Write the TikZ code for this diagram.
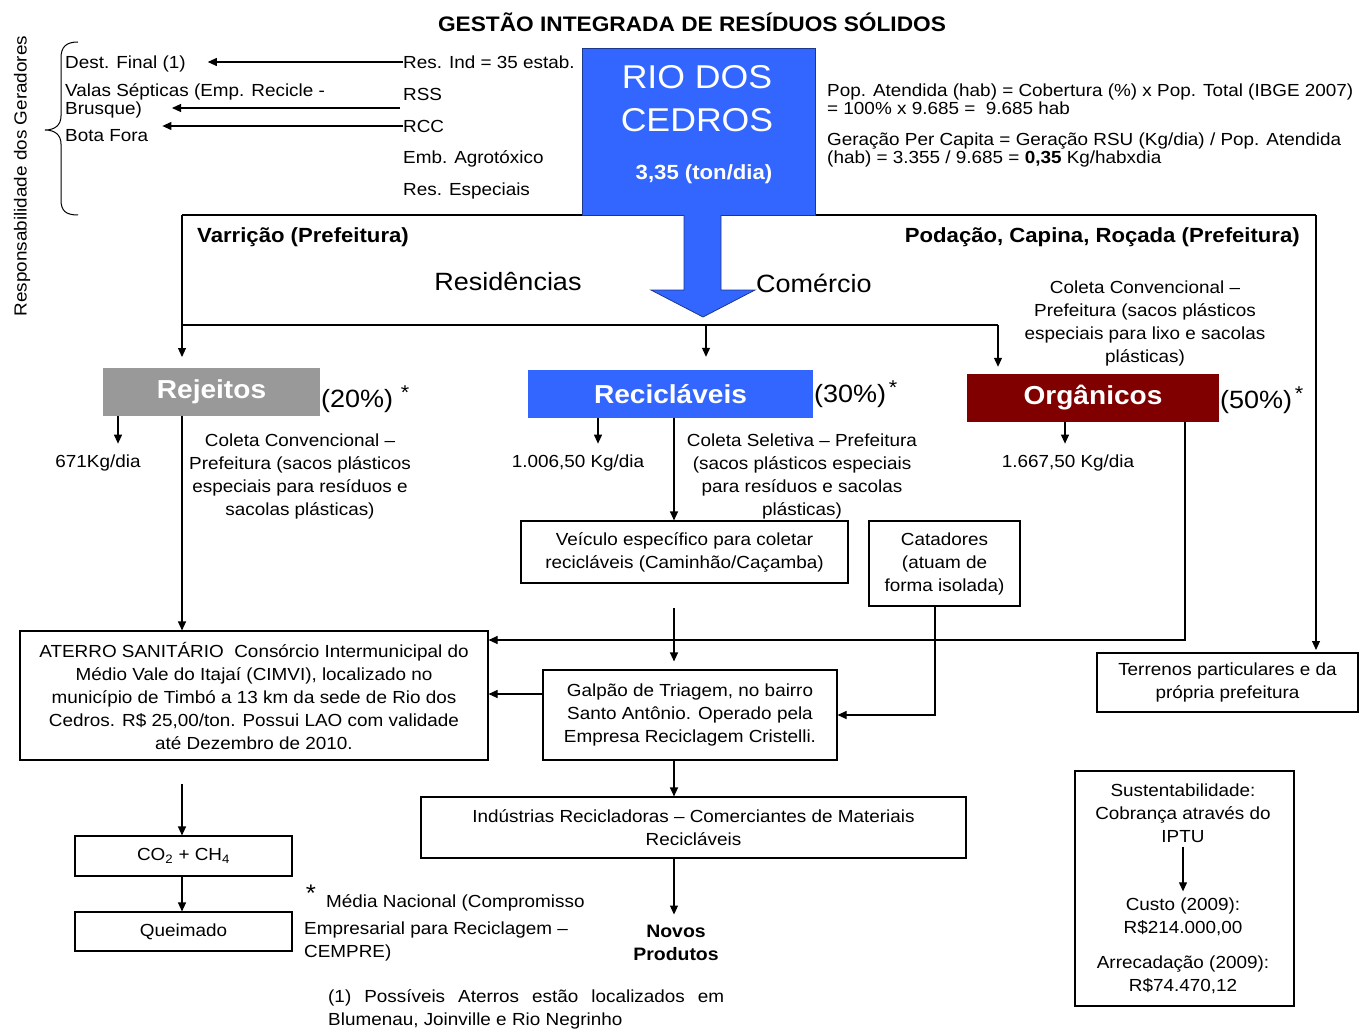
\documentclass[tikz,border=0pt]{standalone}
\usepackage{fontspec}
\setmainfont{Liberation Sans}[FakeStretch=1.08]
\usetikzlibrary{arrows.meta,decorations.pathreplacing,calc}
\definecolor{rioblue}{RGB}{51,102,255}
\definecolor{orgred}{RGB}{128,0,0}
\definecolor{rejgray}{RGB}{153,153,153}
\newcommand\myfN{\fontsize{17.5}{23}\selectfont}
\newcommand\myfT{\fontsize{17.5}{18}\selectfont}
\newcommand\myfV{\fontsize{17.5}{15}\selectfont}
\newcommand\myfTitle{\fontsize{21}{24}\selectfont\bfseries}
\newcommand\myfB{\fontsize{20.5}{24}\selectfont\bfseries}
\newcommand\myfL{\fontsize{25}{28}\selectfont}
\newcommand\myfBig{\fontsize{26}{30}\selectfont\bfseries}
\newcommand\myfRio{\fontsize{33}{43}\selectfont}
\newcommand\myfStar{\fontsize{20}{20}\selectfont}
\newcommand\myfNB{\fontsize{18}{23}\selectfont\bfseries}
\begin{document}
\begin{tikzpicture}[x=1pt,y=-1pt,
  t/.style={inner sep=0pt, font=\myfN, align=center},
  tl/.style={t, anchor=west, align=left},
  bx/.style={draw, line width=1.1pt, inner sep=0pt, align=center, font=\myfN},
  ln/.style={line width=1.1pt},
  ar/.style={ln, -{Triangle[length=9pt,width=8pt]}}]
\useasboundingbox (0,0) rectangle (1363,1030);

% helper coordinates
\coordinate (fl) at (182,215);
\coordinate (fr) at (1316,215);
\coordinate (ml) at (182,325);
\coordinate (mr) at (998,325);
\coordinate (mc) at (706,325);
\coordinate (x118) at (118,0);
\coordinate (x598) at (598,0);
\coordinate (x1065) at (1065,0);
\coordinate (x674) at (674,0);
\coordinate (x1185) at (1185,0);
\coordinate (x935) at (935,0);
\coordinate (y640) at (0,640);
\coordinate (y694) at (0,694);
\coordinate (c608) at (674,608);
\coordinate (c784) at (182,784);
\coordinate (a2s) at (400,108);
\coordinate (a2e) at (172,108);

% title and side text
\node[t, font=\myfTitle] (title) at (692,22) {GESTÃO INTEGRADA DE RESÍDUOS SÓLIDOS};
\node[t, rotate=90] (resp) at (22,176) {Responsabilidade dos Geradores};
\draw[line width=1pt] (78,42) .. controls (66,42) and (61,47) .. (61,58) -- (61,116)
  .. controls (61,125) and (55,130) .. (45,130) .. controls (55,130) and (61,135) .. (61,144)
  -- (61,200) .. controls (61,211) and (66,215) .. (78,215);

% left lists
\node[tl] (dest) at (65,64) {Dest. Final (1)};
\node[tl, font=\myfV] (valas) at (65,101) {Valas Sépticas (Emp. Recicle -\\Brusque)};
\node[tl] (bota) at (65,136) {Bota Fora};
\node[tl] (resind) at (403,62) {Res. Ind = 35 estab.};
\node[tl] (rss) at (403,94) {RSS};
\node[tl] (rcc) at (403,126) {RCC};
\node[tl] (emb) at (403,159) {Emb. Agrotóxico};
\node[tl] (resesp) at (403,191) {Res. Especiais};
\draw[ar, shorten >=22pt] (resind.west) -- (resind.west -| dest.east);
\draw[ar] (a2s) -- (a2e);
\draw[ar, shorten >=14pt] (rcc.west) -- (rcc.west -| bota.east);

% frame lines
\draw[ln] (fl) -- (fr);
\draw[ar, shorten >=11pt] (fl) -- (ml) -- ($(ml)+(0,43)$);
\draw[ln] (ml) -- (mr);
\draw[ar, shorten >=3pt] (fr) -- (1316,653);

% RIO box
\node[fill=rioblue, draw=rioblue!55!black, line width=0.8pt, minimum width=233pt, minimum height=167pt, inner sep=0] (rio) at (698.5,131.5) {};
\node[t, text=white, font=\myfRio] (riot) at (697,98.5) {RIO DOS\\CEDROS};
\node[t, text=white, font=\myfB] (ton) at (704,174) {3,35 (ton/dia)};
\node[tl, font=\myfT] (pop) at (827,99) {Pop. Atendida (hab) = Cobertura (\%) x Pop. Total (IBGE 2007)\\= 100\% x 9.685 =\ \ 9.685 hab};
\node[tl, font=\myfT] (ger) at (827,150) {Geração Per Capita = Geração RSU (Kg/dia) / Pop. Atendida\\(hab) = 3.355 / 9.685 = \textbf{0,35} Kg/habxdia};

% big arrow
\draw[fill=rioblue, draw=rioblue!55!black, line width=0.8pt] (684,215) -- (684,290) -- (651,290) -- (703,317) -- (755,290) -- (721,290) -- (721,215);

\node[t, font=\myfB, anchor=west] (varr) at (197,237) {Varrição (Prefeitura)};
\node[t, font=\myfB, anchor=east] (poda) at (1300,237) {Podação, Capina, Roçada (Prefeitura)};
\node[t, font=\myfL] (resid) at (508,282) {Residências};
\node[t, font=\myfL, anchor=west] (com) at (756,283) {Comércio};
\node[t] (colorg) at (1145,323.5) {Coleta Convencional –\\Prefeitura (sacos plásticos\\especiais para lixo e sacolas\\plásticas)};

% category boxes
\node[fill=rejgray, minimum width=217pt, minimum height=48pt, inner sep=0, text=white, font=\myfBig] (rej) at (211.5,392) {Rejeitos};
\node[t, font=\myfL, anchor=west] (p20) at (321,401) {(20\%)};
\node[t, font=\myfStar] (s20) at (405,393) {*};
\node[fill=rioblue, minimum width=285pt, minimum height=48pt, inner sep=0, text=white, font=\myfBig] (rec) at (670.5,394) {Recicláveis};
\node[t, font=\myfL, anchor=west] (p30) at (814,396) {(30\%)};
\node[t, font=\myfStar] (s30) at (893,388) {*};
\node[fill=orgred, minimum width=252pt, minimum height=48pt, inner sep=0, text=white, font=\myfBig] (org) at (1093,398) {Orgânicos};
\node[t, font=\myfL, anchor=west] (p50) at (1220,402) {(50\%)};
\node[t, font=\myfStar] (s50) at (1299,394) {*};

\draw[ar, shorten >=7pt] (mr) -- (org.north -| mr);
\draw[ar, shorten >=13pt] (mc) -- (rec.north -| mc);

% quantities
\node[t] (kg1) at (98,463) {671Kg/dia};
\node[t] (kg2) at (578,463) {1.006,50 Kg/dia};
\node[t] (kg3) at (1068,463) {1.667,50 Kg/dia};
\draw[ar, shorten >=11pt] (rej.south -| x118) -- (kg1.north -| x118);
\draw[ar, shorten >=11pt] (rec.south -| x598) -- (kg2.north -| x598);
\draw[ar, shorten >=11pt] (org.south -| x1065) -- (kg3.north -| x1065);

\node[t] (colrej) at (300,476) {Coleta Convencional –\\Prefeitura (sacos plásticos\\especiais para resíduos e\\sacolas plásticas)};
\node[t] (colrec) at (802,476) {Coleta Seletiva – Prefeitura\\(sacos plásticos especiais\\para resíduos e sacolas\\plásticas)};

% process boxes
\node[bx, minimum width=327pt, minimum height=62pt] (veic) at (684.5,552) {Veículo específico para coletar\\recicláveis (Caminhão/Caçamba)};
\node[bx, minimum width=151pt, minimum height=85pt] (cat) at (944.5,563.5) {Catadores\\(atuam de\\forma isolada)};
\node[bx, minimum width=294pt, minimum height=90pt] (galpao) at (690,715) {Galpão de Triagem, no bairro\\Santo Antônio. Operado pela\\Empresa Reciclagem Cristelli.};
\node[bx, minimum width=468pt, minimum height=129pt] (aterro) at (254,695.5) {ATERRO SANITÁRIO\ \ Consórcio Intermunicipal do\\Médio Vale do Itajaí (CIMVI), localizado no\\município de Timbó a 13 km da sede de Rio dos\\Cedros. R\$ 25,00/ton. Possui LAO com validade\\até Dezembro de 2010.};
\node[bx, minimum width=545pt, minimum height=61pt] (ind) at (693.5,827.5) {Indústrias Recicladoras – Comerciantes de Materiais\\Recicláveis};
\node[bx, minimum width=261pt, minimum height=59pt] (terr) at (1227.5,682.5) {Terrenos particulares e da\\própria prefeitura};
\node[bx, minimum width=217pt, minimum height=40pt] (co2) at (183.5,856) {CO\textsubscript{2} + CH\textsubscript{4}};
\node[bx, minimum width=217pt, minimum height=39pt] (queim) at (183.5,931.5) {Queimado};
\node[bx, minimum width=219pt, minimum height=235pt] (sustbox) at (1184.5,888.5) {};
\node[t] (sust) at (1183,813) {Sustentabilidade:\\Cobrança através do\\IPTU};
\node[t] (custo) at (1183,916.5) {Custo (2009):\\R\$214.000,00};
\node[t] (arrec) at (1183,974.5) {Arrecadação (2009):\\R\$74.470,12};
\node[t, font=\myfNB] (novos) at (676,942.5) {Novos\\Produtos};

% connectors
\draw[ar] (rej.south -| fl) -- (aterro.north -| fl);
\draw[ar] (rec.south -| x674) -- (veic.north -| x674);
\draw[ar] (org.south -| x1185) |- (aterro.east |- y640);
\draw[ar, shorten >=8pt] (c608) -- (galpao.north -| c608);
\draw[ar] (cat.south -| x935) |- (galpao.east);
\draw[ar] (galpao.west |- y694) -- (aterro.east |- y694);
\draw[ar] (galpao.south -| x674) -- (ind.north -| x674);
\draw[ar, shorten >=10pt] (ind.south -| x674) -- (novos.north -| x674);
\draw[ar] (c784) -- (co2.north -| c784);
\draw[ar] (co2.south -| fl) -- (queim.north -| fl);
\draw[ar, shorten <=4pt, shorten >=6pt] (sust.south) -- (custo.north);

% footnotes
\node[t, font=\fontsize{24}{24}\selectfont] (star) at (311,893) {*};
\node[tl] (media) at (326,903) {Média Nacional (Compromisso};
\node[tl] (emp) at (304,941.5) {Empresarial para Reciclagem –\\CEMPRE)};
\node[tl] (foot1) at (328,1009.5) {\makebox[396pt][s]{(1) Possíveis Aterros estão localizados em}\\Blumenau, Joinville e Rio Negrinho};
\end{tikzpicture}
\end{document}
